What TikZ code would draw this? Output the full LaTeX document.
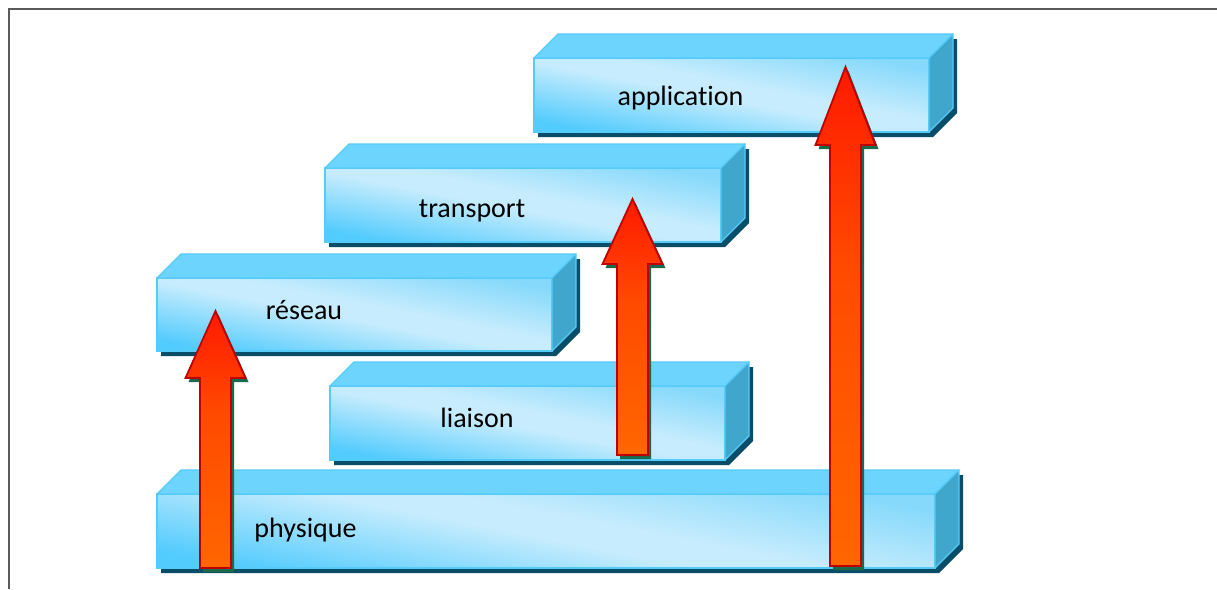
\documentclass[tikz,border=0pt]{standalone}
\usepackage{fontspec}
\setmainfont[Ligatures={NoCommon}]{Carlito}
\definecolor{bA}{HTML}{52CBFD}
\definecolor{bL}{HTML}{C6ECFD}
\definecolor{bB}{HTML}{86D9FB}
\definecolor{topc}{HTML}{6DD5FD}
\definecolor{edgec}{HTML}{55CBFA}
\definecolor{sidec}{HTML}{41A6CC}
\definecolor{bshadow}{HTML}{0A4D69}
\definecolor{aO}{HTML}{FF6600}
\definecolor{aM}{HTML}{FF4A00}
\definecolor{aR}{HTML}{FF1A00}
\definecolor{aline}{HTML}{C00000}
\definecolor{ashadow}{HTML}{196B4C}
\definecolor{framec}{HTML}{5A5A5A}
\pgfdeclareverticalshading{frontshade}{100bp}{color(0bp)=(bA); color(25bp)=(bA); color(48bp)=(bL); color(55bp)=(bL); color(75bp)=(bB); color(100bp)=(bB)}
\pgfdeclareverticalshading{arrowshade}{100bp}{color(0bp)=(aO); color(25bp)=(aO); color(55bp)=(aM); color(75bp)=(aR); color(100bp)=(aR)}
\tikzset{
  frontface/.style={shade, shading=frontshade, shading angle=-11, draw=edgec, line width=1.2pt, inner sep=0pt, outer sep=0pt, anchor=north west},
  topface/.style={fill=topc, draw=edgec, line width=1.2pt, line join=round},
  sideface/.style={fill=sidec, draw=edgec, line width=1.2pt, line join=round},
  boxshadow/.style={fill=bshadow},
  arrowbody/.style={shade, shading=arrowshade, draw=aline, line width=1.8pt, line join=miter},
  arrowshadow/.style={fill=ashadow},
  lab/.style={font=\fontsize{28}{33}\selectfont, text=black, inner sep=0pt, anchor=base}
}
\def\dep{24}
% name, x1, y1, x2, y2
\newcommand\layerbox[5]{%
  \fill[boxshadow] (#2+4,#3+5) -- (#2+4,#5+5) -- (#4+4,#5+5) -- (#4+\dep+4,#5-\dep+5) -- (#4+\dep+4,#3-\dep+5) -- (#2+\dep+4,#3-\dep+5) -- cycle;
  \node[frontface, minimum width={#4-#2}, minimum height={#5-#3}] (#1) at (#2,#3) {};
  \filldraw[topface] (#1.north west) -- ++(\dep,-\dep) -- ++(#4-#2,0) -- (#1.north east) -- cycle;
  \filldraw[sideface] (#1.north east) -- ++(\dep,-\dep) -- ++(0,#5-#3) -- (#1.south east) -- cycle;
}
% cx, bottom, base, tip
\newcommand\bigarrow[4]{%
  \fill[arrowshadow] (#1-15.5+3,#2+4) -- (#1-15.5+3,#3+4) -- (#1-30+3,#3+4) -- (#1+3,#4+4) -- (#1+30+3,#3+4) -- (#1+15.5+3,#3+4) -- (#1+15.5+3,#2+4) -- cycle;
  \filldraw[arrowbody] (#1-15.5,#2) -- (#1-15.5,#3) -- (#1-30,#3) -- (#1,#4) -- (#1+30,#3) -- (#1+15.5,#3) -- (#1+15.5,#2) -- cycle;
}
\begin{document}
\begin{tikzpicture}[x=1pt,y=-1pt]
\useasboundingbox (0,0) rectangle (1217,589);
\fill[white] (0,0) rectangle (1217,589);
\draw[framec, line width=2pt] (8.5,589) -- (8.5,9) -- (1217,9);
\layerbox{app}{534}{58}{929}{132}
\layerbox{trans}{325}{168}{721}{242}
\layerbox{res}{157}{278}{552}{351}
\layerbox{liai}{330}{386}{725}{460}
\layerbox{phys}{157}{494}{935}{568}
\node[lab] (tapp) at (680.5,105) {application};
\node[lab] (ttrans) at (472,217) {transport};
\node[lab] (tres) at (304,319) {réseau};
\node[lab] (tliai) at (477,427) {liaison};
\node[lab] (tphys) at (305.5,537) {physique};
\bigarrow{215.5}{568}{378}{311}
\bigarrow{632.5}{455}{264}{199}
\bigarrow{845.5}{566}{145}{67}
\end{tikzpicture}
\end{document}
